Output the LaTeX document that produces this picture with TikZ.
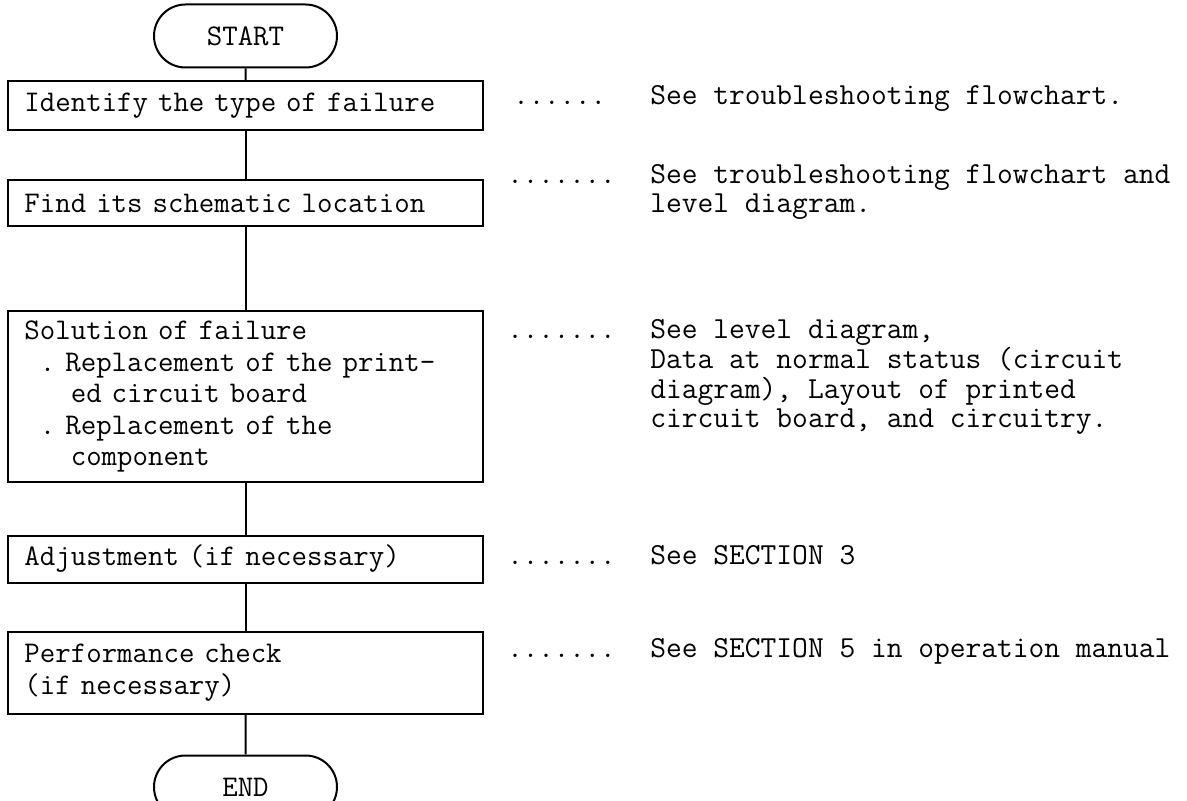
\documentclass[tikz,border=0pt]{standalone}
\usepackage{fontspec}
\usetikzlibrary{positioning,shapes.misc}
\setlength{\parindent}{0pt}
\newcommand{\notelines}[1]{\begin{tabular}[t]{@{}l@{}}#1\end{tabular}}

\begin{document}
\begin{tikzpicture}[
  font=\ttfamily\addfontfeatures{FakeBold=0.6}\fontsize{15pt}{15.75pt}\selectfont\frenchspacing,
  termbox/.style={draw, line width=1pt, rounded rectangle, minimum width=91.5pt, minimum height=31.5pt, inner sep=0pt},
  flowbox/.style={draw, line width=1pt, text width=221pt, inner xsep=8.25pt, inner ysep=0pt, minimum height=#1},
  flowbox/.default=24pt,
  link/.style={line width=1pt},
  note/.style={anchor=base west, inner sep=0pt, font=\ttfamily\fontsize{15.3pt}{14.5pt}\selectfont\frenchspacing},
  dotlead/.style={anchor=base east, inner sep=0pt}
]
\useasboundingbox (0pt,0pt) rectangle (593.5pt,-400.5pt);

% flow column
\node[termbox] (start) at (122.75pt,-18pt) {START};
\node[flowbox=24.5pt, below=6pt of start] (identify) {Identify the type of failure};
\node[flowbox=23pt, below=24pt of identify] (locate) {Find its schematic location};
\node[flowbox=85pt, below=41.5pt of locate] (solve) {Solution of failure\\
  \phantom{x}. Replacement of the print-\\
  \phantom{xxx}ed circuit board\\
  \phantom{x}. Replacement of the\\
  \phantom{xxx}component};
\node[flowbox=23.5pt, below=26pt of solve] (adjust) {Adjustment (if necessary)};
\node[flowbox=41pt, below=23.5pt of adjust] (perf) {Performance check\\(if necessary)};
\node[termbox, below=20pt of perf] (end) {END};

\draw[link] (start) -- (identify);
\draw[link] (identify) -- (locate);
\draw[link] (locate) -- (solve);
\draw[link] (solve) -- (adjust);
\draw[link] (adjust) -- (perf);
\draw[link] (perf) -- (end);

% references on the right
\node[note] (seeflow) at (325pt,-52.5pt) {See troubleshooting flowchart.};
\node[note] (seelevel) at (325pt,-92pt) {\notelines{See troubleshooting flowchart and\\level diagram.}};
\node[note] (seedata) at (325pt,-169.5pt) {\notelines{See level diagram,\\Data at normal status (circuit\\diagram), Layout of printed\\circuit board, and circuitry.}};
\node[note] (seesec3) at (325pt,-282pt) {See SECTION 3};
\node[note] (seesec5) at (325pt,-328.5pt) {See SECTION 5 in operation manual};

\node[left=21.8pt of seeflow.base west, dotlead] (lead1) {......};
\node[left=17pt of seelevel.base west, dotlead] (lead2) {.......};
\node[left=17pt of seedata.base west, dotlead] (lead3) {.......};
\node[left=17pt of seesec3.base west, dotlead] (lead4) {.......};
\node[left=17pt of seesec5.base west, dotlead] (lead5) {.......};
\end{tikzpicture}
\end{document}
